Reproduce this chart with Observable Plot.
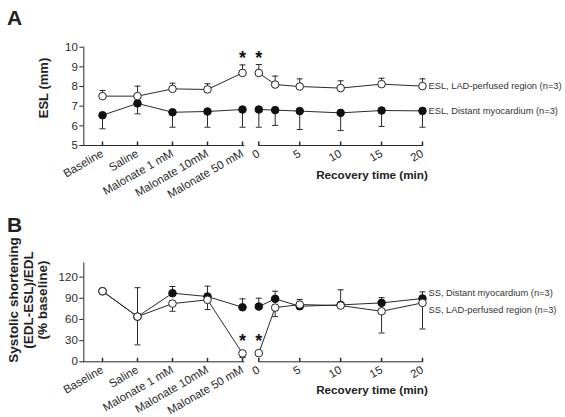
<!DOCTYPE html>
<html><head><meta charset="utf-8">
<script src="https://cdn.jsdelivr.net/npm/d3@7"></script>
<script src="https://cdn.jsdelivr.net/npm/@observablehq/plot@0.6"></script>
<style>
body{margin:0;background:#fff;}
#wrap{position:relative;width:565px;height:417px;overflow:hidden;font-family:"Liberation Sans",Arial,Helvetica,sans-serif;color:#222;background:#fff;}
#wrap svg{position:absolute;overflow:visible;}
.t{position:absolute;font-weight:bold;white-space:nowrap;line-height:1;}
.c{transform:translate(-50%,-50%);}
.r{transform:translate(-50%,-50%) rotate(-90deg);text-align:center;}
</style></head><body><div id="wrap"></div>
<script>
// ---------- data ----------
const categories = ["Baseline", "Saline", "Malonate 1 mM", "Malonate 10mM", "Malonate 50 mM"];
const recoveryTimes = [0, 2, 5, 10, 15, 20];
const recoveryTicks = [0, 5, 10, 15, 20];
const yTicksA = [5, 6, 7, 8, 9, 10];
const yTicksB = [0, 30, 60, 90, 120];
// Panel A: ESL (mm)
const eslLadCat      = [7.51, 7.51, 7.88, 7.85, 8.69];
const eslLadCatErr   = [7.80, 8.02, 8.17, 8.14, 9.10];
const eslDistCat     = [6.54, 7.14, 6.69, 6.73, 6.83];
const eslDistCatErr  = [5.85, 6.61, 5.93, 5.93, 5.93];
const eslLadRec      = [8.69, 8.10, 8.00, 7.92, 8.12, 8.02];
const eslLadRecErr   = [9.12, 8.53, 8.39, 8.29, 8.42, 8.39];
const eslDistRec     = [6.83, 6.80, 6.75, 6.66, 6.78, 6.76];
const eslDistRecErr  = [5.93, 6.02, 5.81, 5.76, 5.97, 5.93];
// Panel B: systolic shortening (% baseline)
const ssLadCat       = [100, 64, 82.5, 87.8, 11.9];
const ssLadCatErr    = [null, 24, 71.6, 74, 6];
const ssDistCat      = [100, 64, 97.2, 92.5, 77.3];
const ssDistCatErr   = [null, 105, 106.7, 107.2, 89.2];
const ssLadRec       = [12.3, 76.8, 81.1, 79.7, 71.6, 83.5];
const ssLadRecErr    = [null, 64, 88.2, null, 40.8, 46.5];
const ssDistRec      = [78.3, 89.2, 78.7, 80.6, 83.5, 89.7];
const ssDistRecErr   = [90.1, 100, 74.9, 102, 91, 99.1];
const starCategory = "Malonate 50 mM";
const starTime = 0;
const labelsA = ["ESL, LAD-perfused region (n=3)", "ESL, Distant myocardium (n=3)"];
const labelsB = ["SS, LAD-perfused region (n=3)", "SS, Distant myocardium (n=3)"];

// ---------- helpers ----------
const FONT = '"Liberation Sans", Arial, Helvetica, sans-serif';
const INK = "#2a2a2a";
const rows = (xs, v, e) => xs.map((x, i) => ({x, v: v[i], e: e[i]}));
const capSym = {draw(c, s) { const r = Math.sqrt(s / Math.PI); c.moveTo(-r, 0); c.lineTo(r, 0); }};
const tickUpSym = {draw(c, s) { const r = Math.sqrt(s / Math.PI); c.moveTo(0, 0); c.lineTo(0, -r); }};
const style = {background: "none", overflow: "visible", fontFamily: FONT, fontSize: "11.5px", color: INK};

function seriesMarks(lad, dist) {
  const le = lad.filter(d => d.e != null), de = dist.filter(d => d.e != null);
  return [
    Plot.ruleX(de, {x: "x", y1: "v", y2: "e", stroke: INK, strokeWidth: 1}),
    Plot.dot(de, {x: "x", y: "e", symbol: capSym, r: 3, stroke: INK, fill: "none", strokeWidth: 1}),
    Plot.ruleX(le, {x: "x", y1: "v", y2: "e", stroke: INK, strokeWidth: 1}),
    Plot.dot(le, {x: "x", y: "e", symbol: capSym, r: 3, stroke: INK, fill: "none", strokeWidth: 1}),
    Plot.line(dist, {x: "x", y: "v", stroke: INK, strokeWidth: 1}),
    Plot.line(lad, {x: "x", y: "v", stroke: INK, strokeWidth: 1}),
    Plot.dot(dist, {x: "x", y: "v", r: 3.8, fill: "#111", stroke: "#111", strokeWidth: 1}),
    Plot.dot(lad, {x: "x", y: "v", r: 3.8, fill: "#fff", stroke: "#222", strokeWidth: 1})
  ];
}

function panel(o) {
  const wrap = document.getElementById("wrap");
  const ladC = rows(categories, o.ladCat, o.ladCatErr), distC = rows(categories, o.distCat, o.distCatErr);
  const ladR = rows(recoveryTimes, o.ladRec, o.ladRecErr), distR = rows(recoveryTimes, o.distRec, o.distRecErr);
  const left = Plot.plot({
    width: 250, height: o.height, marginLeft: 83.3, marginRight: 6.7, marginTop: o.mt, marginBottom: o.mb,
    style,
    x: {type: "point", domain: categories, padding: 0, insetLeft: 17.4, tickSize: 0, tickPadding: 7, tickRotate: -30, label: null, line: true},
    y: {domain: o.yDomain, ticks: o.yTicks, tickFormat: d => String(d), tickSize: 4, tickPadding: 2, label: null, line: true},
    marks: [
      Plot.dot(categories, {x: d => d, frameAnchor: "bottom", symbol: tickUpSym, r: 4, stroke: INK, fill: "none"}),
      ...seriesMarks(ladC, distC),
      Plot.text(ladC.filter(d => d.x === starCategory), {x: "x", y: o.starOnErr ? "e" : "v", text: () => "*", dy: o.starDy, fontSize: 18, fontWeight: "bold", fill: "#111"})
    ]
  });
  left.style.left = "0px"; left.style.top = o.top + "px";
  wrap.appendChild(left);
  const lastL = ladR[ladR.length - 1], lastD = distR[distR.length - 1];
  const right = Plot.plot({
    width: 315, height: o.height, marginLeft: 8.3, marginRight: 143, marginTop: o.mt, marginBottom: o.mb,
    style,
    x: {domain: [0, 20], ticks: recoveryTicks, tickFormat: d => String(d), tickSize: 0, tickPadding: 7, tickRotate: -30, label: null, line: true},
    y: {domain: o.yDomain, axis: null},
    marks: [
      Plot.dot(recoveryTicks, {x: d => d, frameAnchor: "bottom", symbol: tickUpSym, r: 4, stroke: INK, fill: "none"}),
      ...seriesMarks(ladR, distR),
      Plot.text(ladR.filter(d => d.x === starTime), {x: "x", y: o.starOnErr ? "e" : "v", text: () => "*", dy: o.starDy, fontSize: 18, fontWeight: "bold", fill: "#111"}),
      Plot.text([lastL], {x: "x", y: "v", text: () => o.labels[0], dx: 6, dy: o.labDy[0], textAnchor: "start", fontSize: 9.3, fill: "#333"}),
      Plot.text([lastD], {x: "x", y: "v", text: () => o.labels[1], dx: 6, dy: o.labDy[1], textAnchor: "start", fontSize: 9.3, fill: "#333"})
    ]
  });
  right.style.left = "250px"; right.style.top = o.top + "px";
  wrap.appendChild(right);
}

function addText(html, css, cls) {
  const d = document.createElement("div");
  d.className = "t " + (cls || "");
  d.innerHTML = html;
  Object.assign(d.style, css);
  document.getElementById("wrap").appendChild(d);
}

panel({top: 0, height: 205, mt: 46.7, mb: 60, yDomain: [5, 10], yTicks: yTicksA,
  ladCat: eslLadCat, ladCatErr: eslLadCatErr, distCat: eslDistCat, distCatErr: eslDistCatErr,
  ladRec: eslLadRec, ladRecErr: eslLadRecErr, distRec: eslDistRec, distRecErr: eslDistRecErr,
  starOnErr: true, starDy: -6.5, labels: labelsA, labDy: [0, 0]});
panel({top: 205, height: 212, mt: 57.5, mb: 55.7, yDomain: [0, 140], yTicks: yTicksB,
  ladCat: ssLadCat, ladCatErr: ssLadCatErr, distCat: ssDistCat, distCatErr: ssDistCatErr,
  ladRec: ssLadRec, ladRecErr: ssLadRecErr, distRec: ssDistRec, distRecErr: ssDistRecErr,
  starOnErr: false, starDy: -12, labels: labelsB, labDy: [7.5, -5.5]});

addText("A", {left: "7px", top: "7.3px", fontSize: "21px"});
addText("B", {left: "7px", top: "214.3px", fontSize: "21px"});
addText("ESL (mm)", {left: "42.5px", top: "88px", fontSize: "13px"}, "r");
addText("Systolic shortening<br>(EDL-ESL)/EDL<br>(% baseline)", {left: "29px", top: "300px", fontSize: "13.5px", lineHeight: "14.5px"}, "r");
addText("Recovery time (min)", {left: "372px", top: "175px", fontSize: "11.7px"}, "c");
addText("Recovery time (min)", {left: "372px", top: "389.5px", fontSize: "11.7px"}, "c");
</script></body></html>
